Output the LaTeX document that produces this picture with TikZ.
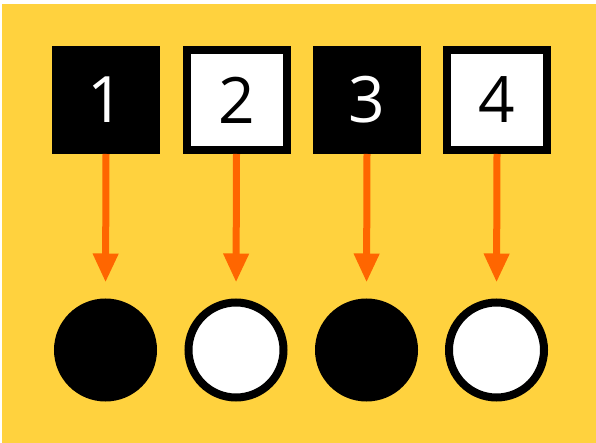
\documentclass[tikz,border=0pt]{standalone}
\usepackage{fontspec}
\setmainfont{Open Sans}
\usetikzlibrary{arrows.meta}
\definecolor{bgyellow}{HTML}{FFD23E}
\definecolor{arrorange}{HTML}{FF6600}
\tikzset{
  sq/.style={rectangle, minimum size=100pt, inner sep=0pt, line width=8pt, draw=black,
    font=\fontsize{64}{64}\selectfont},
  blacksq/.style={sq, fill=black, text=white},
  whitesq/.style={sq, fill=white, text=black},
  disc/.style={circle, minimum size=95pt, inner sep=0pt, line width=8pt, draw=black},
  blackdisc/.style={disc, fill=black},
  whitedisc/.style={disc, fill=white},
  arr/.style={draw=arrorange, line width=7pt, -{Triangle[length=29pt,width=24pt]}, shorten >=16pt}
}
\begin{document}
\begin{tikzpicture}[x=1pt,y=-1pt]
\useasboundingbox (0,0) rectangle (596,443);
\fill[white] (0,0) rectangle (596,443);
\fill[bgyellow] (2,4) rectangle (596,443);
\node[blacksq] (b1) at (106,100) {1};
\node[whitesq] (b2) at (236.5,100) {2};
\node[blacksq] (b3) at (367,100) {3};
\node[whitesq] (b4) at (497,100) {4};
\node[blackdisc] (c1) at (105.5,350) {};
\node[whitedisc] (c2) at (236,350) {};
\node[blackdisc] (c3) at (366.5,350) {};
\node[whitedisc] (c4) at (496.5,350) {};
\foreach \i in {1,2,3,4}{
  \draw[arr] (b\i.south) -- (c\i.north);
}
\end{tikzpicture}
\end{document}
